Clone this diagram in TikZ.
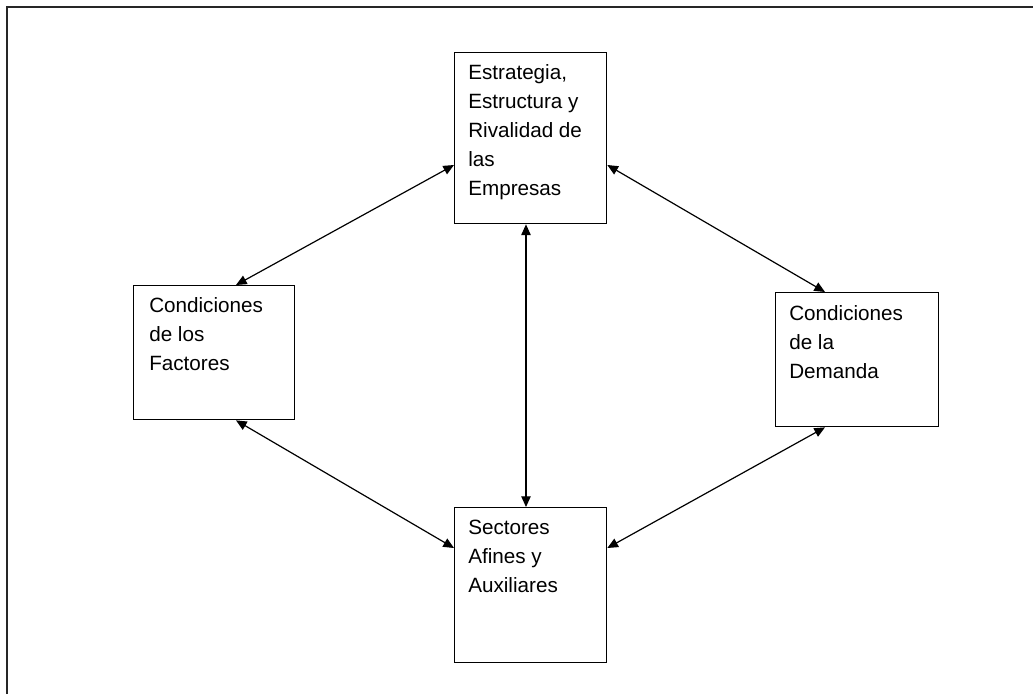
\documentclass[tikz,border=0pt]{standalone}
\usepackage{fontspec}
\setmainfont{Liberation Sans}
\usetikzlibrary{arrows.meta}

\begin{document}
\begin{tikzpicture}[x=0.75pt,y=-0.75pt,
  frame/.style={line width=1.5pt, draw=black!85},
  box/.style={draw, line width=1pt, inner sep=0pt, anchor=north west},
  label/.style={inner sep=0pt, anchor=north west, align=left,
    font=\fontsize{15.5pt}{21.75pt}\selectfont},
  link/.style={line width=0.9pt,
    {Triangle[length=8pt,width=7pt]}-{Triangle[length=8pt,width=7pt]}}]
\useasboundingbox (0,0) rectangle (1033,694);

% page frame (top and left edges)
\draw[frame] (7,694) -- (7,7) -- (1033,7);

% the four boxes
\node[box, minimum width=114pt, minimum height=128.25pt] (top) at (454,52) {};
\node[box, minimum width=120.75pt, minimum height=100.5pt] (left) at (133,285) {};
\node[box, minimum width=122.25pt, minimum height=100.5pt] (right) at (775,292) {};
\node[box, minimum width=114pt, minimum height=116.25pt] (bottom) at (454,507) {};

% box texts
\node[label] (toptext) at (468,64.5) {Estrategia,\\Estructura y\\Rivalidad de\\las\\Empresas};
\node[label] (lefttext) at (149,297.5) {Condiciones\\de los\\Factores};
\node[label] (righttext) at (789,305.5) {Condiciones\\de la\\Demanda};
\node[label] (bottomtext) at (468,519.5) {Sectores\\Afines y\\Auxiliares};

% two-way connectors
\draw[link] (top.west |- 0,165) -- (236,0 |- left.north);
\draw[link] (top.east |- 0,165) -- (825,0 |- right.north);
\draw[link] (526,0 |- top.south) -- (526,0 |- bottom.north);
\draw[link] (236,0 |- left.south) -- (bottom.west |- 0,548);
\draw[link] (825,0 |- right.south) -- (bottom.east |- 0,548);
\end{tikzpicture}
\end{document}
